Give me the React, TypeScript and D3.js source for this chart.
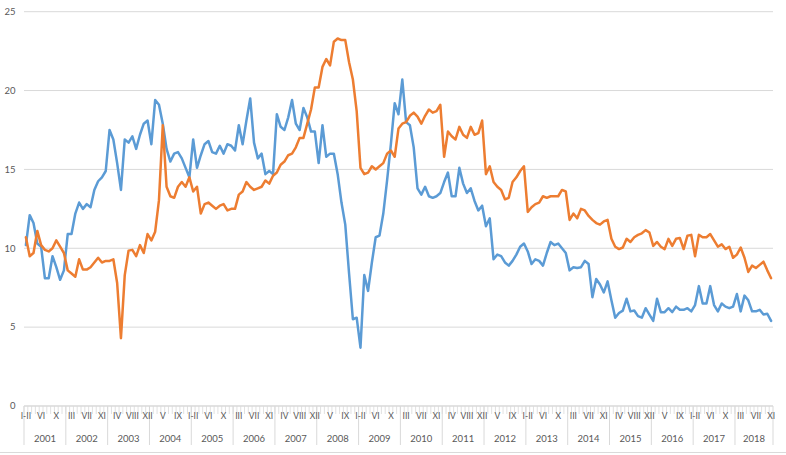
import React, { useEffect, useRef } from 'react';
import * as d3 from 'd3';

const years = [2001, 2002, 2003, 2004, 2005, 2006, 2007, 2008, 2009, 2010, 2011, 2012, 2013, 2014, 2015, 2016, 2017, 2018];
const months = ['I-II', 'III', 'IV', 'V', 'VI', 'VII', 'VIII', 'IX', 'X', 'XI', 'XII'];
// 2018 stops at XI
const lastYearMonths = 10;

const blueValues = [
  10.2, 12.1, 11.6, 10.3, 10.1, 8.1, 8.1, 9.5, 8.8, 8.0, 8.6,
  10.9, 10.9, 12.2, 12.9, 12.5, 12.8, 12.6, 13.7, 14.25, 14.5, 14.9,
  17.5, 16.9, 15.4, 13.7, 16.9, 16.7, 17.1, 16.3, 17.2, 17.9, 18.1,
  16.6, 19.4, 19.1, 17.9, 16.3, 15.5, 16.0, 16.1, 15.7, 15.1, 14.5,
  16.9, 15.1, 15.9, 16.6, 16.8, 16.1, 16.0, 16.5, 16.0, 16.6, 16.5,
  16.2, 17.8, 16.6, 18.1, 19.5, 16.7, 15.7, 16.0, 14.7, 14.9, 14.7,
  18.5, 17.7, 17.5, 18.3, 19.4, 17.9, 17.5, 18.9, 18.3, 17.4, 17.4,
  15.4, 17.8, 15.8, 16.0, 16.0, 14.7, 12.9, 11.5, 8.4, 5.5, 5.6,
  3.7, 8.3, 7.3, 9.1, 10.7, 10.8, 12.2, 14.3, 16.6, 19.2, 18.5,
  20.7, 18.0, 17.8, 16.4, 13.8, 13.4, 13.9, 13.3, 13.2, 13.3, 13.5,
  14.2, 14.8, 13.3, 13.3, 15.1, 14.1, 13.5, 13.8, 13.0, 12.4, 12.7,
  11.4, 11.9, 9.3, 9.6, 9.5, 9.1, 8.9, 9.2, 9.6, 10.1, 10.3,
  9.8, 9.0, 9.3, 9.2, 8.9, 9.7, 10.4, 10.2, 10.3, 10.0, 9.7,
  8.6, 8.8, 8.75, 8.8, 9.2, 9.0, 6.9, 8.05, 7.7, 7.2, 7.9,
  6.7, 5.6, 5.9, 6.05, 6.8, 6.0, 6.05, 5.7, 5.6, 6.2, 5.8,
  5.4, 6.8, 5.95, 5.95, 6.2, 5.95, 6.3, 6.1, 6.1, 6.2, 6.0,
  6.4, 7.6, 6.5, 6.5, 7.6, 6.4, 6.0, 6.5, 6.3, 6.2, 6.3,
  7.1, 6.0, 7.0, 6.7, 6.0, 6.0, 6.1, 5.8, 5.85, 5.4,
];

const orangeValues = [
  10.7, 9.5, 9.7, 11.1, 10.2, 9.9, 9.8, 10.0, 10.5, 10.1, 9.7,
  8.6, 8.4, 8.2, 9.3, 8.65, 8.65, 8.8, 9.1, 9.4, 9.1, 9.2,
  9.2, 9.3, 7.8, 4.3, 8.3, 9.85, 9.9, 9.5, 10.2, 9.7, 10.9,
  10.5, 11.05, 13.05, 17.8, 13.9, 13.3, 13.2, 13.9, 14.2, 13.9, 14.5,
  13.6, 13.9, 12.2, 12.8, 12.9, 12.7, 12.5, 12.7, 12.8, 12.4, 12.5,
  12.5, 13.4, 13.6, 14.2, 13.9, 13.7, 13.8, 13.9, 14.3, 14.1, 14.6,
  14.8, 15.3, 15.5, 15.9, 16.0, 16.4, 17.0, 17.0, 17.9, 18.8, 20.2,
  20.2, 21.5, 22.0, 21.6, 23.1, 23.3, 23.2, 23.2, 21.8, 20.7, 18.7,
  15.1, 14.7, 14.8, 15.2, 15.0, 15.2, 15.4, 16.0, 16.2, 15.8, 17.6,
  17.9, 18.0, 18.4, 18.6, 18.35, 17.9, 18.4, 18.8, 18.6, 18.7, 19.1,
  15.8, 17.4, 17.1, 16.9, 17.7, 17.2, 17.0, 17.7, 17.2, 17.3, 18.1,
  14.7, 15.2, 14.2, 13.9, 13.7, 13.1, 13.2, 14.2, 14.5, 14.9, 15.2,
  12.3, 12.6, 12.8, 12.9, 13.3, 13.2, 13.3, 13.3, 13.3, 13.7, 13.6,
  11.8, 12.2, 11.9, 12.5, 12.4, 12.05, 11.8, 11.6, 11.5, 11.7, 11.8,
  10.6, 10.1, 9.95, 10.05, 10.6, 10.4, 10.7, 10.85, 10.95, 11.15, 11.0,
  10.15, 10.4, 10.1, 9.95, 10.6, 10.15, 10.6, 10.65, 9.95, 10.8, 10.85,
  9.5, 10.85, 10.7, 10.7, 10.9, 10.5, 10.1, 10.25, 9.95, 10.1, 9.4,
  9.6, 10.05, 9.4, 8.5, 8.9, 8.75, 8.95, 9.15, 8.6, 8.1,
];

const yTicks = [0, 5, 10, 15, 20, 25];

type Category = { year: number; month: string; index: number };

export default function App() {
  const svgRef = useRef<SVGSVGElement>(null);

  useEffect(() => {
    if (!svgRef.current) return;
    const root = d3.select(svgRef.current);
    root.selectAll('*').remove();

    const width = 786, height = 455;
    const left = 24, right = 773, top = 11.7, bottom = 406;
    const font = 'Lato, "Open Sans", sans-serif';
    const textColor = '#595959';
    const gridColor = '#d9d9d9';

    // flat list of categories: year + month
    const cats: Category[] = [];
    years.forEach((yr, yi) => {
      const n = yi === years.length - 1 ? lastYearMonths : months.length;
      for (let m = 0; m < n; m++) cats.push({ year: yr, month: months[m], index: cats.length });
    });

    const x = d3
      .scaleBand<number>()
      .domain(cats.map((c) => c.index))
      .range([left, right])
      .padding(0);
    const bw = x.bandwidth();
    const cx = (i: number) => x(i)! + bw / 2;

    const y = d3.scaleLinear().domain([0, 25]).range([bottom, top]);

    root.attr('width', width).attr('height', height);
    root.append('rect').attr('width', width).attr('height', height).attr('fill', '#fff');

    // gridlines
    root
      .append('g')
      .selectAll('line')
      .data(yTicks)
      .enter()
      .append('line')
      .attr('x1', left)
      .attr('x2', right)
      .attr('y1', (d) => y(d))
      .attr('y2', (d) => y(d))
      .attr('stroke', gridColor)
      .attr('stroke-width', 1);

    // y labels
    root
      .append('g')
      .selectAll('text')
      .data(yTicks)
      .enter()
      .append('text')
      .attr('x', 15.5)
      .attr('y', (d) => y(d) + 3.3)
      .attr('text-anchor', 'end')
      .style('font-family', font)
      .style('font-size', '9.5px')
      .attr('fill', textColor)
      .text((d) => d);

    // category ticks
    const axis = root.append('g');
    axis
      .selectAll('line.tick')
      .data(cats)
      .enter()
      .append('line')
      .attr('class', 'tick')
      .attr('x1', (d) => x(d.index)!)
      .attr('x2', (d) => x(d.index)!)
      .attr('y1', bottom)
      .attr('y2', bottom + 8)
      .attr('stroke', gridColor)
      .attr('stroke-width', 0.8);

    // year separators
    const yearStarts = years.map((yr) => cats.find((c) => c.year === yr)!.index);
    const sepX = yearStarts.map((i) => x(i)!).concat([right]);
    axis
      .selectAll('line.sep')
      .data(sepX)
      .enter()
      .append('line')
      .attr('class', 'sep')
      .attr('x1', (d) => d)
      .attr('x2', (d) => d)
      .attr('y1', bottom)
      .attr('y2', 445)
      .attr('stroke', gridColor)
      .attr('stroke-width', 1);

    // month labels every 4th category
    axis
      .selectAll('text.month')
      .data(cats.filter((c) => c.index % 4 === 0))
      .enter()
      .append('text')
      .attr('class', 'month')
      .attr('x', (d) => cx(d.index))
      .attr('y', 419)
      .attr('text-anchor', 'middle')
      .style('font-family', font)
      .style('font-size', '8.5px')
      .attr('fill', textColor)
      .text((d) => d.month);

    // year labels
    axis
      .selectAll('text.year')
      .data(years)
      .enter()
      .append('text')
      .attr('class', 'year')
      .attr('x', (d, i) => (sepX[i] + sepX[i + 1]) / 2)
      .attr('y', 441.5)
      .attr('text-anchor', 'middle')
      .style('font-family', font)
      .style('font-size', '9.5px')
      .attr('fill', textColor)
      .text((d) => d);

    // axis line
    root
      .append('line')
      .attr('x1', left)
      .attr('x2', right)
      .attr('y1', bottom)
      .attr('y2', bottom)
      .attr('stroke', gridColor)
      .attr('stroke-width', 1);

    // faint sheet line at the bottom
    root
      .append('line')
      .attr('x1', 0)
      .attr('x2', width)
      .attr('y1', 452.5)
      .attr('y2', 452.5)
      .attr('stroke', '#dadada')
      .attr('stroke-width', 1);

    const line = d3
      .line<number>()
      .x((d, i) => cx(i))
      .y((d) => y(d));

    root
      .append('path')
      .datum(blueValues)
      .attr('d', line)
      .attr('fill', 'none')
      .attr('stroke', '#5b9bd5')
      .attr('stroke-width', 2.5)
      .attr('stroke-linejoin', 'round')
      .attr('stroke-linecap', 'round');

    root
      .append('path')
      .datum(orangeValues)
      .attr('d', line)
      .attr('fill', 'none')
      .attr('stroke', '#ed7d31')
      .attr('stroke-width', 2.5)
      .attr('stroke-linejoin', 'round')
      .attr('stroke-linecap', 'round');
  }, []);

  return (
    <div style={{ position: 'absolute', left: 0, top: 0 }}>
      <svg ref={svgRef} style={{ display: 'block' }} />
    </div>
  );
}
